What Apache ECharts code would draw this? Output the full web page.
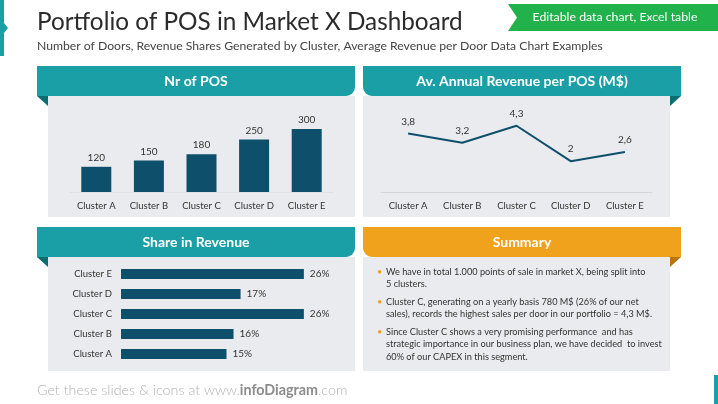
<!DOCTYPE html>
<html>
<head>
<meta charset="utf-8">
<script src="https://cdn.jsdelivr.net/npm/echarts@6/dist/echarts.min.js"></script>
<style>
html,body{margin:0;padding:0;background:#fff;}
#c{width:718px;height:404px;}
</style>
</head>
<body>
<div id="c"></div>
<script>
const categories = ['Cluster A', 'Cluster B', 'Cluster C', 'Cluster D', 'Cluster E'];
const posCount = [120, 150, 180, 250, 300];
const avgRevenue = [3.8, 3.2, 4.3, 2, 2.6];
const revenueShare = [15, 16, 26, 17, 26];
const summaryLines = [
  ['We have in total 1.000 points of sale in market X, being split into', '5 clusters.'],
  ['Cluster C, generating on a yearly basis 780 M$ (26% of our net', 'sales), records the highest sales per door in our portfolio = 4,3 M$.'],
  ['Since Cluster C shows a very promising performance  and has', 'strategic importance in our business plan, we have decided  to invest', '60% of our CAPEX in this segment.']
];

const TEAL = '#1a9fa6', TEAL_DARK = '#0d6c72', ORANGE = '#f1a21d', ORANGE_DARK = '#b8760c';
const PANEL = '#e9ebee', BAR = '#0e4f6c', TXT = '#333333', FONT = 'Lato';

function txt(x, y, text, font, fill, align, valign, z) {
  return { type: 'text', z: z || 50, style: { x: x, y: y, text: text, font: font, fill: fill,
    align: align || 'left', verticalAlign: valign || 'middle',
    textAlign: align || 'left', textVerticalAlign: valign || 'middle' } };
}

const graphics = [];
graphics.push({ type: 'polygon', z: -5, shape: { points: [[0,0],[4,0],[4,23],[8,28],[4,33],[4,56],[0,56]] }, style: { fill: TEAL } });
graphics.push({ type: 'rect', z: -5, shape: { x: 714, y: 375, width: 4, height: 29 }, style: { fill: TEAL } });
graphics.push(txt(37, 22, 'Portfolio of POS in Market X Dashboard', 'normal 24.3px ' + FONT, '#2b2b2b'));
graphics.push(txt(37, 46, 'Number of Doors, Revenue Shares Generated by Cluster, Average Revenue per Door Data Chart Examples', 'normal 12.2px ' + FONT, '#444444'));
graphics.push({ type: 'polygon', z: -5, shape: { points: [[508,4],[718,4],[718,31],[508,31],[517,17.5]] }, style: { fill: '#21b24b' } });
graphics.push(txt(615, 17.5, 'Editable data chart, Excel table', 'normal 12.3px ' + FONT, '#ffffff', 'center'));

function panel(x0, x1, yh, yp, yb, color, dark, side, title) {
  if (side === 'left') {
    graphics.push({ type: 'rect', z: -8, shape: { x: x0 + 11, y: yp, width: x1 - x0 - 11, height: yb - yp }, style: { fill: PANEL } });
    graphics.push({ type: 'polygon', z: -6, shape: { points: [[x0, yp], [x0 + 11, yp], [x0 + 11, yp + 10]] }, style: { fill: dark } });
    graphics.push({ type: 'rect', z: -6, shape: { x: x0, y: yh, width: x1 - x0, height: yp - yh, r: [0, 0, 9, 0] }, style: { fill: color } });
  } else {
    graphics.push({ type: 'rect', z: -8, shape: { x: x0, y: yp, width: x1 - x0 - 11, height: yb - yp }, style: { fill: PANEL } });
    graphics.push({ type: 'polygon', z: -6, shape: { points: [[x1 - 11, yp], [x1, yp], [x1 - 11, yp + 10]] }, style: { fill: dark } });
    graphics.push({ type: 'rect', z: -6, shape: { x: x0, y: yh, width: x1 - x0, height: yp - yh, r: [0, 0, 0, 9] }, style: { fill: color } });
  }
  graphics.push(txt((x0 + x1) / 2, (yh + yp) / 2, title, 'bold 14px ' + FONT, '#ffffff', 'center'));
}
panel(37, 355, 66, 96, 217, TEAL, TEAL_DARK, 'left', 'Nr of POS');
panel(363, 681, 66, 96, 217, TEAL, TEAL_DARK, 'right', 'Av. Annual Revenue per POS (M$)');
panel(37, 355, 227, 257, 371, TEAL, TEAL_DARK, 'left', 'Share in Revenue');
panel(363, 681, 227, 257, 371, ORANGE, ORANGE_DARK, 'right', 'Summary');

const paraY = [271.7, 301.7, 331.7];
summaryLines.forEach(function (lines, i) {
  graphics.push(txt(377, paraY[i], '•', 'normal 9.2px ' + FONT, ORANGE, 'left', 'middle'));
  lines.forEach(function (l, j) {
    graphics.push(txt(386, paraY[i] + j * 12.6, l, 'normal 9.2px ' + FONT, TXT, 'left', 'middle'));
  });
});

graphics.push({ type: 'text', z: 50, style: { x: 37, y: 390, text: '{a|Get these slides & icons at www.}{b|infoDiagram}{a|.com}',
  verticalAlign: 'middle', textVerticalAlign: 'middle',
  rich: { a: { fontFamily: FONT, fontSize: 14.3, fontWeight: 300, fill: '#b3b3b3', color: '#b3b3b3' },
          b: { fontFamily: FONT, fontSize: 14.3, fontWeight: 'bold', fill: '#8c8c8c', color: '#8c8c8c' } } } });

const chart = echarts.init(document.getElementById('c'), null, { renderer: 'canvas' });
const catLabel = { color: TXT, fontFamily: FONT, fontSize: 9.5 };
chart.setOption({
  animation: false,
  backgroundColor: '#ffffff',
  graphic: { elements: graphics },
  grid: [
    { left: 70, right: 385, top: 129, bottom: 212 },
    { left: 381, right: 66, top: 115, bottom: 212 },
    { left: 121, right: 386, top: 264, bottom: 40 }
  ],
  xAxis: [
    { type: 'category', gridIndex: 0, data: categories, axisTick: { show: false },
      axisLine: { lineStyle: { color: '#dde0e3' } }, axisLabel: Object.assign({ margin: 9 }, catLabel) },
    { type: 'category', gridIndex: 1, data: categories, axisTick: { show: false },
      axisLine: { lineStyle: { color: '#d3d6d9' } }, axisLabel: Object.assign({ margin: 9 }, catLabel) },
    { type: 'value', gridIndex: 2, min: 0, max: 30, show: false }
  ],
  yAxis: [
    { type: 'value', gridIndex: 0, min: 0, max: 300, show: false },
    { type: 'value', gridIndex: 1, min: 0, max: 5, show: false },
    { type: 'category', gridIndex: 2, data: categories, axisTick: { show: false }, axisLine: { show: false },
      axisLabel: Object.assign({ margin: 9 }, catLabel) }
  ],
  series: [
    { type: 'bar', xAxisIndex: 0, yAxisIndex: 0, data: posCount, barWidth: 30,
      itemStyle: { color: BAR },
      label: { show: true, position: 'top', distance: 4, color: TXT, fontFamily: FONT, fontSize: 10 } },
    { type: 'line', xAxisIndex: 1, yAxisIndex: 1, data: avgRevenue, showSymbol: true, symbol: 'circle', symbolSize: 2,
      itemStyle: { color: 'rgba(0,0,0,0)', borderWidth: 0 },
      lineStyle: { color: BAR, width: 2 },
      label: { show: true, opacity: 1, position: 'top', distance: 6, color: TXT, fontFamily: FONT, fontSize: 10,
        formatter: function (p) { return String(p.value).replace('.', ','); } } },
    { type: 'bar', xAxisIndex: 2, yAxisIndex: 2, data: revenueShare, barWidth: 10,
      itemStyle: { color: BAR },
      label: { show: true, position: 'right', distance: 6, color: TXT, fontFamily: FONT, fontSize: 10,
        formatter: '{c}%' } }
  ]
});
</script>
</body>
</html>
